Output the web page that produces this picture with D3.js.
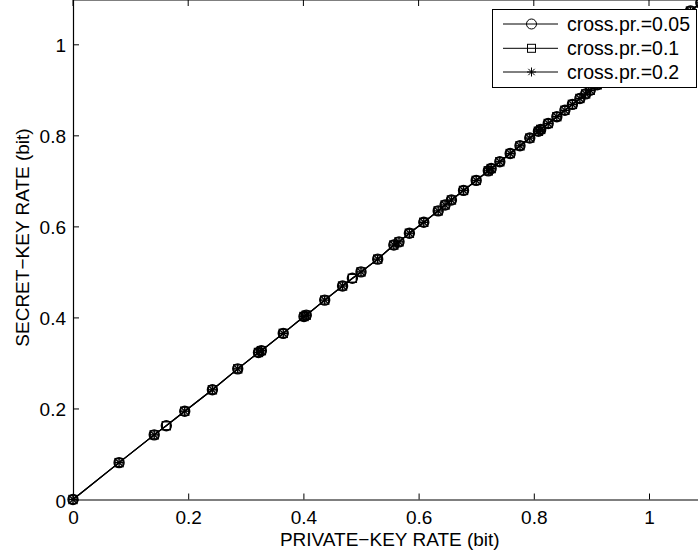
<!DOCTYPE html>
<html>
<head>
<meta charset="utf-8">
<script src="https://cdn.jsdelivr.net/npm/d3@7"></script>
<style>
  html, body { margin: 0; padding: 0; background: #fff; }
  svg { display: block; }
  text { font-family: "Liberation Sans", Arial, Helvetica, sans-serif; fill: #000; }
</style>
</head>
<body>
<svg id="chart" width="698" height="557"></svg>
<script>
// Crossover probabilities, one curve each
const crossProbs = [0.05, 0.1, 0.2];
const seriesLabels = ["cross.pr.=0.05", "cross.pr.=0.1", "cross.pr.=0.2"];
const markerShapes = ["circle", "square", "asterisk"];

// Private-key rate (bit) of the sampled codes, per curve
const privRate05 = [0, 0.080, 0.141, 0.162, 0.194, 0.242, 0.286, 0.322, 0.327, 0.365, 0.401, 0.405, 0.437, 0.468, 0.485, 0.500, 0.529, 0.557, 0.566, 0.584, 0.609, 0.634, 0.646, 0.657, 0.678, 0.700, 0.721, 0.726, 0.741, 0.759, 0.776, 0.793, 0.808, 0.812, 0.825, 0.840, 0.854, 0.867, 0.880, 0.890, 0.898, 0.910, 0.930, 0.952, 0.970, 0.990, 1.012, 1.030, 1.051, 1.072, 1.090];
const privRate10 = [0, 0.080, 0.141, 0.162, 0.194, 0.242, 0.286, 0.322, 0.327, 0.365, 0.401, 0.405, 0.437, 0.468, 0.485, 0.500, 0.529, 0.557, 0.566, 0.584, 0.609, 0.634, 0.646, 0.657, 0.678, 0.700, 0.721, 0.726, 0.741, 0.759, 0.776, 0.793, 0.808, 0.812, 0.825, 0.840, 0.854, 0.867, 0.880, 0.890, 0.898, 0.910, 0.930, 0.952, 0.970, 0.990, 1.012, 1.030, 1.051, 1.072, 1.090];
const privRate20 = [0, 0.080, 0.141, 0.194, 0.242, 0.286, 0.322, 0.327, 0.365, 0.401, 0.405, 0.437, 0.468, 0.500, 0.529, 0.557, 0.566, 0.584, 0.609, 0.634, 0.646, 0.657, 0.678, 0.700, 0.721, 0.726, 0.741, 0.759, 0.776, 0.793, 0.808, 0.812, 0.825, 0.840, 0.854, 0.867, 0.880, 0.890, 0.898, 0.910, 0.930, 0.952, 0.970, 0.990, 1.012, 1.030, 1.051, 1.072, 1.090];

// Secret-key rate (bit) of the same codes
const secRate05 = [0, 0.081, 0.142, 0.162, 0.194, 0.241, 0.287, 0.323, 0.327, 0.365, 0.402, 0.405, 0.438, 0.469, 0.486, 0.500, 0.528, 0.559, 0.566, 0.585, 0.609, 0.634, 0.647, 0.658, 0.679, 0.701, 0.722, 0.727, 0.742, 0.760, 0.777, 0.794, 0.809, 0.813, 0.826, 0.841, 0.855, 0.868, 0.881, 0.891, 0.899, 0.911, 0.931, 0.953, 0.971, 0.991, 1.013, 1.031, 1.052, 1.073, 1.091];
const secRate10 = [0, 0.081, 0.142, 0.162, 0.194, 0.241, 0.287, 0.323, 0.327, 0.365, 0.402, 0.405, 0.438, 0.469, 0.486, 0.500, 0.528, 0.559, 0.566, 0.585, 0.609, 0.634, 0.647, 0.658, 0.679, 0.701, 0.722, 0.727, 0.742, 0.760, 0.777, 0.794, 0.809, 0.813, 0.826, 0.841, 0.855, 0.868, 0.881, 0.891, 0.899, 0.911, 0.931, 0.953, 0.971, 0.991, 1.013, 1.031, 1.052, 1.073, 1.091];
const secRate20 = [0, 0.081, 0.142, 0.194, 0.241, 0.287, 0.323, 0.327, 0.365, 0.402, 0.405, 0.438, 0.469, 0.500, 0.528, 0.559, 0.566, 0.585, 0.609, 0.634, 0.647, 0.658, 0.679, 0.701, 0.722, 0.727, 0.742, 0.760, 0.777, 0.794, 0.809, 0.813, 0.826, 0.841, 0.855, 0.868, 0.881, 0.891, 0.899, 0.911, 0.931, 0.953, 0.971, 0.991, 1.013, 1.031, 1.052, 1.073, 1.091];

const xTicks = [0, 0.2, 0.4, 0.6, 0.8, 1];
const yTicks = [0, 0.2, 0.4, 0.6, 0.8, 1];
const xTickLabels = ["0", "0.2", "0.4", "0.6", "0.8", "1"];
const yTickLabels = ["0", "0.2", "0.4", "0.6", "0.8", "1"];
const xTitle = "PRIVATE\u2212KEY RATE (bit)";
const yTitle = "SECRET\u2212KEY RATE (bit)";

const privRates = [privRate05, privRate10, privRate20];
const secRates = [secRate05, secRate10, secRate20];
const series = crossProbs.map((p, i) => ({
  label: seriesLabels[i],
  shape: markerShapes[i],
  points: privRates[i].map((v, j) => ({ x: v, y: secRates[i][j] }))
}));

// Axes frame
const plotLeft = 73, plotBottom = 499.5, plotTop = 0;
const x = d3.scaleLinear().domain([0, 1.1]).range([plotLeft, plotLeft + 1.1 * 576]);
const y = d3.scaleLinear().domain([0, 1.1]).range([plotBottom, plotBottom - 1.1 * 455.2]);
const plotRight = x(1.1);

const svg = d3.select("#chart");
const FONT = 19;

// Top edge of the box
svg.append("line").attr("x1", plotLeft).attr("x2", plotRight).attr("y1", plotTop).attr("y2", plotTop)
  .attr("stroke", "#000").attr("stroke-width", 1);

// Bottom axis (ticks pointing inward)
const xAxis = svg.append("g").attr("transform", `translate(0,${plotBottom})`)
  .call(d3.axisBottom(x).tickValues(xTicks).tickSizeInner(-6).tickSizeOuter(0)
    .tickFormat((d, i) => xTickLabels[i]));
xAxis.select(".domain").attr("stroke", "#000").attr("stroke-width", 1.2);
xAxis.selectAll(".tick line").attr("stroke", "#000").attr("stroke-width", 1);
xAxis.selectAll(".tick text").attr("font-size", FONT).attr("font-family", null)
  .attr("y", 24).attr("dy", null);

// Top ticks
svg.append("g").selectAll("line").data(xTicks).join("line")
  .attr("x1", d => x(d)).attr("x2", d => x(d)).attr("y1", plotTop).attr("y2", plotTop + 6)
  .attr("stroke", "#000").attr("stroke-width", 1);

// Left axis
const yAxis = svg.append("g").attr("transform", `translate(${plotLeft},0)`)
  .call(d3.axisLeft(y).tickValues(yTicks).tickSizeInner(-6).tickSizeOuter(0)
    .tickFormat((d, i) => yTickLabels[i]));
yAxis.select(".domain").attr("stroke", "#000").attr("stroke-width", 1.2);
yAxis.selectAll(".tick line").attr("stroke", "#000").attr("stroke-width", 1);
yAxis.selectAll(".tick text").attr("font-size", FONT).attr("font-family", null)
  .attr("x", -7).attr("dy", null).attr("y", 7.5);

// Axis titles
svg.append("text").attr("x", x(0.55)).attr("y", 546).attr("text-anchor", "middle")
  .attr("font-size", FONT).text(xTitle);
svg.append("text").attr("transform", "translate(29,237.5) rotate(-90)")
  .attr("text-anchor", "middle").attr("font-size", FONT).text(yTitle);

// Marker drawing
function drawMarker(g, shape, cx, cy, sw) {
  if (shape === "circle") {
    g.append("circle").attr("cx", cx).attr("cy", cy).attr("r", 5)
      .attr("fill", "none").attr("stroke", "#000").attr("stroke-width", sw);
  } else if (shape === "square") {
    g.append("rect").attr("x", cx - 4).attr("y", cy - 4).attr("width", 8).attr("height", 8)
      .attr("fill", "none").attr("stroke", "#000").attr("stroke-width", sw);
  } else {
    const r = 4.5, d = r * Math.SQRT1_2;
    const segs = [[0, -r, 0, r], [-r, 0, r, 0], [-d, -d, d, d], [-d, d, d, -d]];
    segs.forEach(s => g.append("line")
      .attr("x1", cx + s[0]).attr("y1", cy + s[1]).attr("x2", cx + s[2]).attr("y2", cy + s[3])
      .attr("stroke", "#000").attr("stroke-width", sw));
  }
}

// Curves
const lineGen = d3.line().x(d => x(d.x)).y(d => y(d.y));
series.forEach(s => {
  const g = svg.append("g");
  g.append("path").datum(s.points).attr("d", lineGen)
    .attr("fill", "none").attr("stroke", "#000").attr("stroke-width", 1.2);
  s.points.forEach(p => drawMarker(g, s.shape, x(p.x), y(p.y), 1.4));
});

// Legend
const lg = svg.append("g");
lg.append("rect").attr("x", 492.5).attr("y", 9.5).attr("width", 204).attr("height", 78)
  .attr("fill", "#fff").attr("stroke", "#000").attr("stroke-width", 1);
const rowY = [24, 48.3, 72];
series.forEach((s, i) => {
  lg.append("line").attr("x1", 503).attr("x2", 558).attr("y1", rowY[i]).attr("y2", rowY[i])
    .attr("stroke", "#000").attr("stroke-width", 1);
  drawMarker(lg, s.shape, 531.5, rowY[i], 1);
  lg.append("text").attr("x", 567).attr("y", rowY[i] + 7).attr("font-size", 19.5).text(s.label);
});
</script>
</body>
</html>
